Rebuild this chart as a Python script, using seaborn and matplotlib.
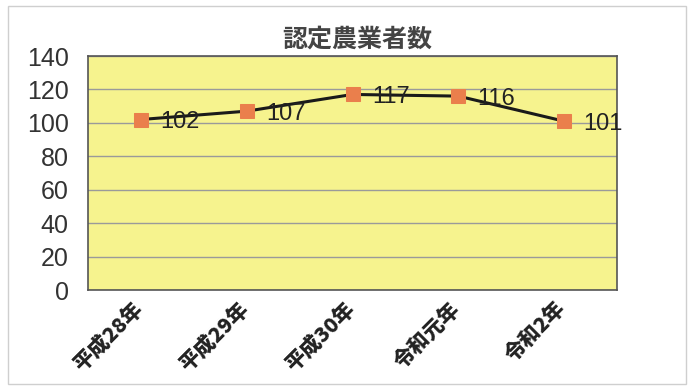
import matplotlib
matplotlib.use("Agg")
import matplotlib.pyplot as plt
import matplotlib.patches as mpatches
import matplotlib.transforms as mtransforms
import seaborn as sns
import pandas as pd

# data
years = ['平成28年', '平成29年', '平成30年', '令和元年', '令和2年']
farmers = [102, 107, 117, 116, 101]
yticks = [0, 20, 40, 60, 80, 100, 120, 140]

df = pd.DataFrame({'year': years, 'count': farmers})

sns.set_theme(style="white")
plt.rcParams['font.family'] = ['Noto Sans CJK JP', 'DejaVu Sans']

fig = plt.figure(figsize=(6.89, 3.89), dpi=100)
ax = fig.add_axes([88 / 689, 1 - 290 / 389, 529 / 689, 234 / 389])
ax.set_facecolor('#F6F38E')

sns.lineplot(data=df, x='year', y='count', ax=ax, sort=False,
             color='#1a1a1a', linewidth=2.2, marker='s', markersize=10,
             markerfacecolor='#EA7F4C', markeredgecolor='#EA7F4C', zorder=3)

for i, v in enumerate(farmers):
    ax.annotate(str(v), (i, v), xytext=(14, -2), textcoords='offset points',
                ha='left', va='center', fontsize=17, color='#222222',
                family=['Liberation Sans', 'DejaVu Sans'], clip_on=False,
                zorder=4)

ax.set_xlim(-0.5, len(years) - 0.5)
ax.set_ylim(0, 140)
ax.set_yticks(yticks)
ax.set_yticklabels([str(t) for t in yticks], fontsize=18, color='#333333',
                   family=['Liberation Sans', 'DejaVu Sans'])
ax.tick_params(axis='y', length=0, pad=14)
ax.yaxis.grid(True, color='#9a9a9a', linewidth=1)
ax.xaxis.grid(False)

ax.set_xticks(range(len(years)))
ax.set_xticklabels(years, rotation=45, ha='right', rotation_mode='anchor',
                   fontsize=15, fontweight='heavy', color='#222222')
ax.tick_params(axis='x', length=0, pad=6)
# nudge the slanted labels so they end at the category centre
shift = mtransforms.ScaledTranslation(-9 / 100, 0, fig.dpi_scale_trans)
for lbl in ax.get_xticklabels():
    lbl.set_transform(lbl.get_transform() + shift)
ax.set_xticks([i + 0.5 for i in range(len(years) - 1)], minor=True)
ax.tick_params(axis='x', which='minor', direction='in', length=5,
               color='#555555', width=1)
ax.set_xlabel('')
ax.set_ylabel('')

for s in ax.spines.values():
    s.set_color('#555555')
    s.set_linewidth(1.2)

fig.text(357 / 689, 1 - 40 / 389, '認定農業者数', ha='center', va='center',
         fontsize=18, fontweight='bold', color='#444444')

fig.patches.append(mpatches.Rectangle((0.012, 0.012), 0.983, 0.973,
                                      transform=fig.transFigure, fill=False,
                                      edgecolor='#cfcfcf', linewidth=1))

fig.savefig('out.png', dpi=100)
